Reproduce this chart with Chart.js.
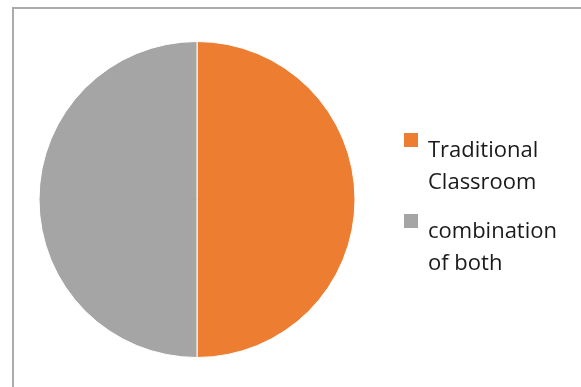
<!DOCTYPE html>
<html>
<head>
<meta charset="utf-8">
<script src="https://cdn.jsdelivr.net/npm/chart.js@4"></script>
<style>
    body { margin: 0; background: #fff; }
    #wrap { position: relative; width: 581px; height: 387px; overflow: hidden; }
    #frame { position: absolute; left: 12px; top: 7px; width: 600px; height: 400px; border: 2px solid #ababab; box-sizing: border-box; }
    #chartBox { position: absolute; left: 0; top: 0; width: 581px; height: 387px; }
    #legend { position: absolute; left: 404px; top: 132px; font-family: "Open Sans", sans-serif; font-size: 22px; line-height: 32px; color: #1a1a1a; }
    .item { position: relative; padding-left: 24px; margin-bottom: 17px; }
    .box { position: absolute; left: 0; top: 1px; width: 14px; height: 14px; }
</style>
</head>
<body>
<div id="wrap">
    <div id="frame"></div>
    <div id="chartBox"><canvas id="pieChart"></canvas></div>
    <div id="legend"></div>
</div>
<script>
// 범례/데이터
const labels = ['Traditional Classroom', 'combination of both'];
const legendLines = [['Traditional', 'Classroom'], ['combination', 'of both']];
const values = [50, 50];
const colors = ['#ed7d31', '#a5a5a5'];

let pieChart = null;

function renderPieChart() {
    const ctx = document.getElementById('pieChart');
    if (pieChart) {
        pieChart.destroy();
    }
    pieChart = new Chart(ctx, {
        type: 'pie',
        data: {
            labels: labels,
            datasets: [{
                data: values,
                backgroundColor: colors,
                borderColor: '#fff',
                borderWidth: 1
            }]
        },
        options: {
            responsive: true,
            maintainAspectRatio: false,
            animation: false,
            layout: {
                padding: { top: 41, bottom: 29, left: 38, right: 225 }
            },
            plugins: {
                legend: { display: false },
                tooltip: { enabled: false }
            }
        }
    });
}

// 줄바꿈 범례
function renderLegend() {
    const el = document.getElementById('legend');
    el.innerHTML = '';
    legendLines.forEach((lines, i) => {
        const item = document.createElement('div');
        item.className = 'item';
        const box = document.createElement('span');
        box.className = 'box';
        box.style.background = colors[i];
        item.appendChild(box);
        const text = document.createElement('div');
        text.innerHTML = lines.join('<br>');
        item.appendChild(text);
        el.appendChild(item);
    });
}

renderPieChart();
renderLegend();
</script>
</body>
</html>
